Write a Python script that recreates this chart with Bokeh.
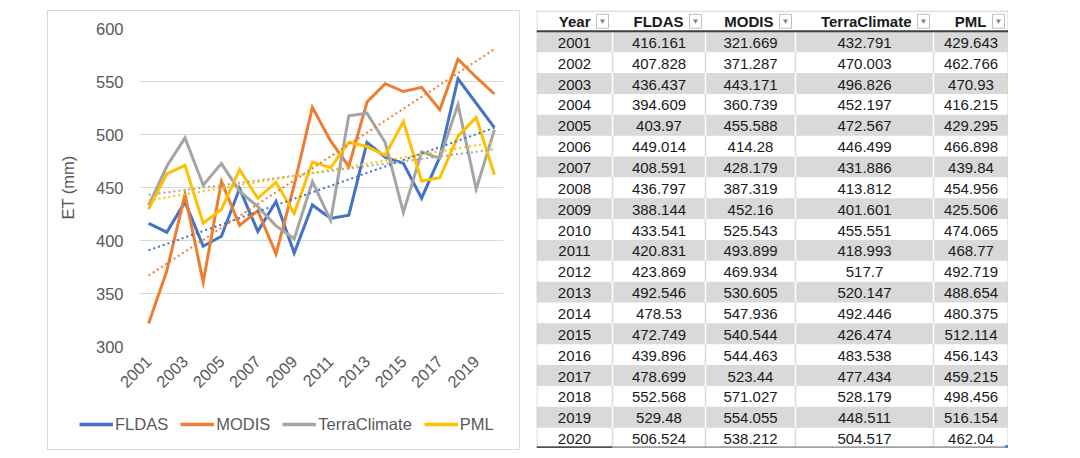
import numpy as np
from bokeh.plotting import figure
from bokeh.models import Range1d, FixedTicker, Legend, LegendItem, Spacer
from bokeh.layouts import row, column
from bokeh.embed import file_html
from bokeh.resources import INLINE
from bokeh.core.properties import value

# ---------------- data ----------------
years = list(range(2001, 2021))
fldas = [416.161, 407.828, 436.437, 394.609, 403.97, 449.014, 408.591, 436.797, 388.144, 433.541,
         420.831, 423.869, 492.546, 478.53, 472.749, 439.896, 478.699, 552.568, 529.48, 506.524]
modis = [321.669, 371.287, 443.171, 360.739, 455.588, 414.28, 428.179, 387.319, 452.16, 525.543,
         493.899, 469.934, 530.605, 547.936, 540.544, 544.463, 523.44, 571.027, 554.055, 538.212]
terra = [432.791, 470.003, 496.826, 452.197, 472.567, 446.499, 431.886, 413.812, 401.601, 455.551,
         418.993, 517.7, 520.147, 492.446, 426.474, 483.538, 477.434, 528.179, 448.511, 504.517]
pml = [429.643, 462.766, 470.93, 416.215, 429.295, 466.898, 439.84, 454.956, 425.506, 474.065,
       468.77, 492.719, 488.654, 480.375, 512.114, 456.143, 459.215, 498.456, 516.154, 462.04]
series_names = ["FLDAS", "MODIS", "TerraClimate", "PML"]
series_vals = [fldas, modis, terra, pml]
colors = ["#4472C4", "#ED7D31", "#A5A5A5", "#FFC000"]
y_ticks = [300, 350, 400, 450, 500, 550, 600]
x_tick_years = [2001, 2003, 2005, 2007, 2009, 2011, 2013, 2015, 2017, 2019]
y_label = "ET (mm)"
table_headers = ["Year"] + series_names

FONT = "Liberation Sans"
TXT = "#595959"
BOX = "1px solid #d9d9d9"

# ---------------- chart ----------------
p = figure(width=473, height=400, output_backend="svg", toolbar_location=None,
           x_range=Range1d(2000.5, 2020.5), y_range=Range1d(300, 600),
           min_border_left=91, min_border_right=18, min_border_top=17, min_border_bottom=65)
p.styles = {"border-top": BOX, "border-left": BOX, "border-right": BOX, "box-sizing": "border-box"}
p.outline_line_color = None
p.background_fill_color = "white"
p.border_fill_color = "white"

p.xgrid.visible = False
p.ygrid.grid_line_color = "#d9d9d9"
p.ygrid.grid_line_width = 1
p.yaxis.ticker = FixedTicker(ticks=y_ticks)
p.xaxis.ticker = FixedTicker(ticks=x_tick_years)
for ax in (p.xaxis, p.yaxis):
    ax.axis_line_color = None
    ax.major_tick_line_color = None
    ax.minor_tick_line_color = None
    ax.major_tick_out = 0
    ax.major_tick_in = 0
    ax.major_label_text_font = FONT
    ax.major_label_text_font_size = "16.5px"
    ax.major_label_text_color = TXT
p.yaxis.major_label_standoff = 16
p.xaxis.major_label_standoff = 12
p.xaxis.major_label_orientation = np.pi / 4
p.yaxis.axis_label = y_label
p.yaxis.axis_label_text_font = FONT
p.yaxis.axis_label_text_font_size = "16.5px"
p.yaxis.axis_label_text_font_style = "normal"
p.yaxis.axis_label_text_color = TXT
p.yaxis.axis_label_standoff = 16

for name, vals, col in zip(series_names, series_vals, colors):
    p.line(years, vals, line_color=col, line_width=3, line_join="miter")
x_arr = np.array(years, dtype=float)
for vals, col in zip(series_vals, colors):
    k, b = np.polyfit(x_arr, np.array(vals), 1)
    p.line(years, list(k * x_arr + b), line_color=col, line_width=2, line_dash="2 3")

# ---------------- legend strip (bottom of the chart box) ----------------
# same series are drawn here but fall outside the strip's ranges; only the legend shows
lg = figure(width=473, height=40, output_backend="svg", toolbar_location=None,
            x_range=Range1d(0, 1), y_range=Range1d(0, 1), min_border=0, title=None)
lg.styles = {"border-bottom": BOX, "border-left": BOX, "border-right": BOX, "box-sizing": "border-box"}
lg.axis.visible = False
lg.grid.visible = False
lg.outline_line_color = None
lg.background_fill_color = "white"
lg.border_fill_color = "white"
items = []
for name, vals, col in zip(series_names, series_vals, colors):
    r = lg.line(x=years, y=vals, line_color=col, line_width=3.5)
    items.append(LegendItem(label=name, renderers=[r]))
legend = Legend(items=items, orientation="horizontal", location=(31, 16),
                padding=0, margin=0, spacing=12, glyph_width=34, glyph_height=20,
                label_standoff=2, border_line_color=None, background_fill_alpha=0,
                label_text_font=FONT, label_text_font_size="16.5px", label_text_color=TXT)
lg.add_layout(legend, "center")

# ---------------- table ----------------
col_w = [76, 93, 90, 138, 75]
edges = list(np.cumsum([0] + col_w))
W = edges[-1]
n_rows = len(years) + 1
t = figure(width=int(W), height=438, output_backend="svg", toolbar_location=None,
           x_range=Range1d(0, W), y_range=Range1d(n_rows, 0),
           min_border=0, title=None)
t.axis.visible = False
t.grid.visible = False
t.outline_line_color = None
t.background_fill_color = "white"
t.border_fill_color = "white"

gray_rows = [i + 1 for i in range(len(years)) if i % 2 == 0]
t.quad(left=0, right=W, top=[r for r in gray_rows], bottom=[r + 1 for r in gray_rows],
       fill_color="#d9d9d9", line_color=None)

# vertical separators
sx, sy0, sy1, sc = [], [], [], []
for i in range(1, n_rows):
    c = "white" if i in gray_rows else "#d9d9d9"
    for e in edges[1:-1]:
        sx.append(e); sy0.append(i); sy1.append(i + 1); sc.append(c)
t.segment(x0=sx, x1=sx, y0=sy0, y1=sy1, line_color=sc, line_width=1.5)
# outer edges
t.segment(x0=[0.5, W - 0.5], x1=[0.5, W - 0.5], y0=[0, 0], y1=[n_rows, n_rows],
          line_color="#d0d0d0", line_width=1)
t.segment(x0=[0], x1=[W], y0=[0.03], y1=[0.03], line_color="#c8c8c8", line_width=1)
t.segment(x0=[0], x1=[W], y0=[1], y1=[1], line_color="#3f3f3f", line_width=2)
t.segment(x0=[0, edges[1]], x1=[edges[1], W], y0=[n_rows - 0.05] * 2, y1=[n_rows - 0.05] * 2,
          line_color=["#505050", "#a0a0a0"], line_width=2.5)

# header buttons
rights = edges[1:]
t.quad(left=[r - 16 for r in rights], right=[r - 4 for r in rights], top=[0.18] * 5,
       bottom=[0.85] * 5, fill_color="white", line_color="#c0c0c0", line_width=1)
t.scatter(x=[r - 10 for r in rights], y=[0.5] * 5, marker="inverted_triangle", size=5,
          fill_color="#7f7f7f", line_color=None)
t.text(x=[r - 22 for r in rights], y=[0.55] * 5, text=table_headers, text_align="right",
       text_baseline="middle", text_font=value(FONT), text_font_size="15px",
       text_font_style="bold", text_color="#1a1a1a")

centers = [(edges[j] + edges[j + 1]) / 2 for j in range(5)]
tx, ty, tt = [], [], []
for i, yr in enumerate(years):
    rowvals = [str(yr)] + [str(v[i]) for v in series_vals]
    for j in range(5):
        tx.append(centers[j]); ty.append(i + 1.55); tt.append(rowvals[j])
t.text(x=tx, y=ty, text=tt, text_align="center", text_baseline="middle",
       text_font=value(FONT), text_font_size="15px", text_color="#1a1a1a")
t.scatter(x=[W - 2], y=[n_rows - 0.1], marker="triangle", size=4, angle=-0.785,
          fill_color="#4472C4", line_color=None)

layout = row(Spacer(width=47, height=10),
             column(Spacer(width=10, height=10), p, row(lg)),
             Spacer(width=16, height=10),
             column(Spacer(width=10, height=10), t))
open("out.html", "w").write(file_html(layout, INLINE))
